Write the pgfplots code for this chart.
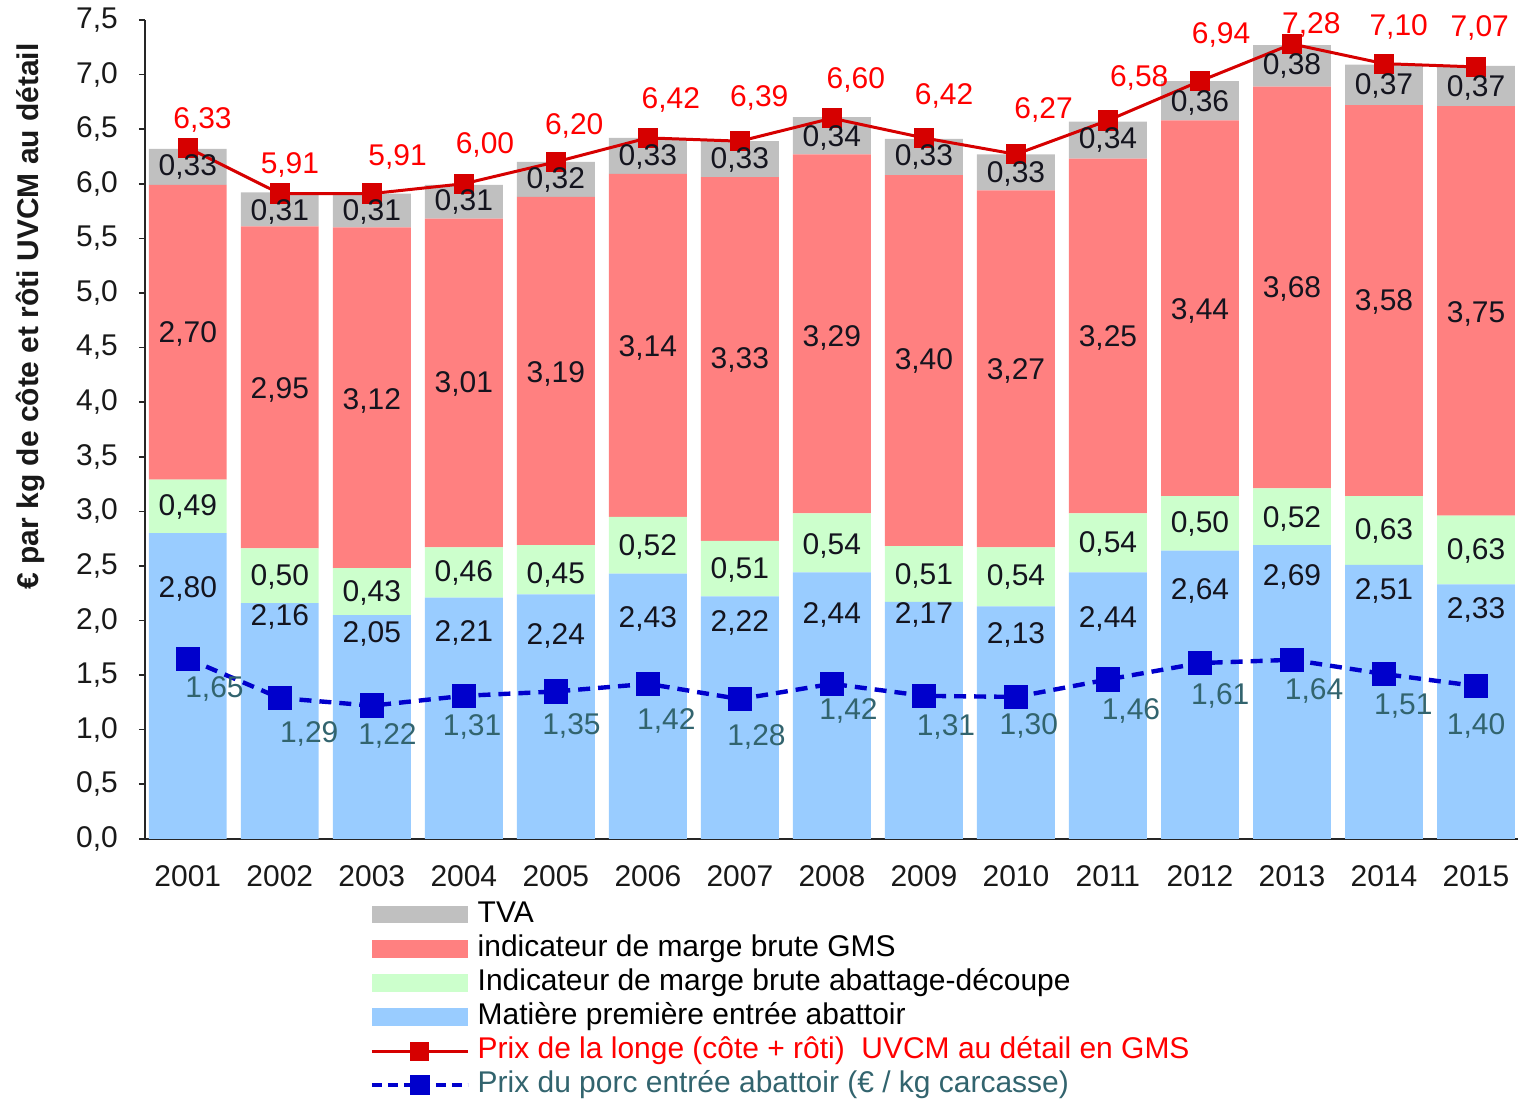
\documentclass[border=0pt]{standalone}
\usepackage{pgfplots}
\pgfplotsset{compat=1.18}
\usepackage{pgfplotstable}
\usepackage{fontspec}
\setmainfont{Liberation Sans}
\definecolor{cTVA}{RGB}{192,192,192}
\definecolor{cGMS}{RGB}{255,128,128}
\definecolor{cAbat}{RGB}{204,255,204}
\definecolor{cMat}{RGB}{153,204,255}
\definecolor{cRedLine}{RGB}{214,0,0}
\definecolor{cRedTxt}{RGB}{255,0,0}
\definecolor{cBlueLine}{RGB}{0,0,204}
\definecolor{cBlueTxt}{RGB}{50,100,110}
\definecolor{cLbl}{RGB}{20,20,30}

\pgfplotstableread{
x mat abat gms tva longe porc
0 2.80 0.49 2.70 0.33 6.33 1.65
1 2.16 0.50 2.95 0.31 5.91 1.29
2 2.05 0.43 3.12 0.31 5.91 1.22
3 2.21 0.46 3.01 0.31 6.00 1.31
4 2.24 0.45 3.19 0.32 6.20 1.35
5 2.43 0.52 3.14 0.33 6.42 1.42
6 2.22 0.51 3.33 0.33 6.39 1.28
7 2.44 0.54 3.29 0.34 6.60 1.42
8 2.17 0.51 3.40 0.33 6.42 1.31
9 2.13 0.54 3.27 0.33 6.27 1.30
10 2.44 0.54 3.25 0.34 6.58 1.46
11 2.64 0.50 3.44 0.36 6.94 1.61
12 2.69 0.52 3.68 0.38 7.28 1.64
13 2.51 0.63 3.58 0.37 7.10 1.51
14 2.33 0.63 3.75 0.37 7.07 1.40
}\data

\pgfplotstableread{
x y l
0 2.287 2,80
1 2.031 2,16
2 1.875 2,05
3 1.884 2,21
4 1.857 2,24
5 2.012 2,43
6 1.976 2,22
7 2.049 2,44
8 2.049 2,17
9 1.866 2,13
10 2.012 2,44
11 2.268 2,64
12 2.396 2,69
13 2.268 2,51
14 2.095 2,33
}\lblMat

\pgfplotstableread{
x y l
0 3.037 0,49
1 2.396 0,50
2 2.250 0,43
3 2.433 0,46
4 2.415 0,45
5 2.671 0,52
6 2.460 0,51
7 2.680 0,54
8 2.405 0,51
9 2.396 0,54
10 2.698 0,54
11 2.881 0,50
12 2.927 0,52
13 2.817 0,63
14 2.634 0,63
}\lblAbat

\pgfplotstableread{
x y l
0 4.628 2,70
1 4.116 2,95
2 4.015 3,12
3 4.162 3,01
4 4.262 3,19
5 4.500 3,14
6 4.390 3,33
7 4.591 3,29
8 4.381 3,40
9 4.290 3,27
10 4.591 3,25
11 4.838 3,44
12 5.040 3,68
13 4.921 3,58
14 4.811 3,75
}\lblGMS

\pgfplotstableread{
x y l
0 6.155 0,33
1 5.744 0,31
2 5.744 0,31
3 5.835 0,31
4 6.037 0,32
5 6.247 0,33
6 6.220 0,33
7 6.421 0,34
8 6.247 0,33
9 6.091 0,33
10 6.402 0,34
11 6.741 0,36
12 7.079 0,38
13 6.896 0,37
14 6.878 0,37
}\lblTVA

\pgfplotstableread{
x y l
0.16 6.585 6,33
1.11 6.174 5,91
2.28 6.247 5,91
3.23 6.357 6,00
4.20 6.530 6,20
5.25 6.768 6,42
6.21 6.787 6,39
7.26 6.951 6,60
8.22 6.805 6,42
9.30 6.677 6,27
10.34 6.970 6,58
11.23 7.363 6,94
12.21 7.454 7,28
13.16 7.436 7,10
14.04 7.427 7,07
}\lblLonge

\pgfplotstableread{
x y l
0.29 1.372 1,65
1.32 0.960 1,29
2.17 0.942 1,22
3.09 1.024 1,31
4.17 1.034 1,35
5.20 1.079 1,42
6.18 0.933 1,28
7.18 1.171 1,42
8.24 1.024 1,31
9.14 1.034 1,30
10.25 1.171 1,46
11.22 1.308 1,61
12.24 1.354 1,64
13.21 1.216 1,51
14.00 1.034 1,40
}\lblPorc

\newcommand{\fs}{\fontsize{15}{18}\selectfont}

\pgfplotsset{
  base/.style={scale only axis, width=687.5pt, height=410pt,
    xmin=-0.467, xmax=14.456, ymin=0, ymax=7.5, clip=false},
  barleg/.style={legend image code/.code={\fill[##1, draw=none] (0pt,-4.5pt) rectangle (48pt,4.5pt);}},
  lineleg/.style={legend image code/.code={\draw[##1,mark repeat=2,mark phase=2] plot coordinates {(0pt,0pt) (24pt,0pt) (48pt,0pt)};}},
  lbl/.style={only marks, mark=none, nodes near coords, point meta=explicit symbolic,
    every node near coord/.append style={anchor=center, font=\fs, text=#1, inner sep=0pt}},
}

\begin{document}
\begin{tikzpicture}
\begin{axis}[base, ybar stacked, bar width=39pt,
  axis x line*=bottom, axis y line*=left,
  axis line style={-, black!85, line width=0.9pt},
  xtick={0,1,2,3,4,5,6,7,8,9,10,11,12,13,14},
  xticklabels={2001,2002,2003,2004,2005,2006,2007,2008,2009,2010,2011,2012,2013,2014,2015},
  xtick style={draw=none},
  ytick={0,0.5,1,1.5,2,2.5,3,3.5,4,4.5,5,5.5,6,6.5,7,7.5},
  tick align=outside, major tick length=3pt,
  ytick style={black!85, line width=0.8pt},
  /pgf/number format/.cd, use comma, fixed, fixed zerofill, precision=1, assume math mode=true,
  /pgfplots/.cd,
  ticklabel style={font=\fs, text=black!90},
  yticklabel style={xshift=-7pt},
  xticklabel style={yshift=-7pt},
  ylabel={€ par kg de côte et rôti UVCM au détail},
  ylabel style={at={(rel axis cs:-0.083,0.638)}, anchor=center, font=\bfseries\fs, text=black!90},
]
\addplot[fill=cMat, draw=none] table[x=x,y=mat]{\data};
\addplot[fill=cAbat, draw=none] table[x=x,y=abat]{\data};
\addplot[fill=cGMS, draw=none] table[x=x,y=gms]{\data};
\addplot[fill=cTVA, draw=none] table[x=x,y=tva]{\data};
\coordinate (bbSW) at (rel axis cs:-0.10545,-0.3171);
\coordinate (bbNE) at (rel axis cs:1.0015,1.0244);
\end{axis}
\begin{axis}[base, hide axis,
  legend style={at={(rel axis cs:0.1636,-0.071)}, anchor=north west, draw=none, fill=none,
    inner sep=0pt, row sep=0pt, font=\fs, cells={anchor=west},
    nodes={text height=11.2pt, text depth=3.5pt, inner ysep=1.2pt, inner xsep=4pt}},
]
\addlegendimage{barleg, fill=cTVA}
\addlegendentry{TVA}
\addlegendimage{barleg, fill=cGMS}
\addlegendentry{indicateur de marge brute GMS}
\addlegendimage{barleg, fill=cAbat}
\addlegendentry{Indicateur de marge brute abattage-découpe}
\addlegendimage{barleg, fill=cMat}
\addlegendentry{Matière première entrée abattoir}
\addlegendimage{lineleg, cRedLine, line width=1.5pt, mark=square*, mark size=4pt, mark options={solid}}
\addlegendentry{\textcolor{cRedTxt}{Prix de la longe (côte + rôti)\ \ UVCM au détail en GMS}}
\addlegendimage{lineleg, cBlueLine, line width=2pt, dash pattern=on 5pt off 3pt, mark=square*, mark size=4pt, mark options={solid}}
\addlegendentry{\textcolor{cBlueTxt}{Prix du porc entrée abattoir (€ / kg carcasse)}}

\addplot[forget plot, cRedLine, line width=1.5pt, mark=square*, mark size=4.3pt, mark options={solid, fill=cRedLine}] table[x=x,y=longe]{\data};
\addplot[forget plot, cBlueLine, line width=2.2pt, dash pattern=on 6pt off 4pt, mark=square*, mark size=5pt, mark options={solid, fill=cBlueLine}] table[x=x,y=porc]{\data};
\addplot[forget plot, lbl=cLbl] table[x=x,y=y,meta=l]{\lblMat};
\addplot[forget plot, lbl=cLbl] table[x=x,y=y,meta=l]{\lblAbat};
\addplot[forget plot, lbl=cLbl] table[x=x,y=y,meta=l]{\lblGMS};
\addplot[forget plot, lbl=cLbl] table[x=x,y=y,meta=l]{\lblTVA};
\addplot[forget plot, lbl=cRedTxt] table[x=x,y=y,meta=l]{\lblLonge};
\addplot[forget plot, lbl=cBlueTxt] table[x=x,y=y,meta=l]{\lblPorc};
\end{axis}
\pgfresetboundingbox
\path[use as bounding box] (bbSW) rectangle (bbNE);
\end{tikzpicture}
\end{document}
